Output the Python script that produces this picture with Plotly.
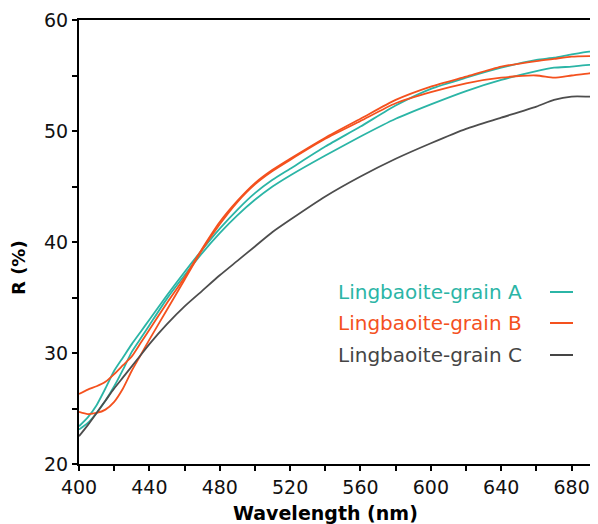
import plotly.graph_objects as go

# ---- data ----
wavelength = [400, 405, 410, 415, 420, 425, 430, 435, 440, 450, 460, 470, 480, 490, 500,
              510, 520, 540, 560, 580, 600, 620, 640, 660, 670, 680, 690, 695]
grain_a1 = [23.4, 24.2, 25.3, 26.8, 28.4, 29.6, 30.8, 31.9, 33.0, 35.2, 37.3, 39.3, 41.2, 42.9, 44.4,
            45.6, 46.6, 48.6, 50.4, 52.3, 53.8, 54.8, 55.7, 56.4, 56.6, 56.9, 57.15, 57.15]
grain_a2 = [23.1, 23.7, 24.6, 25.7, 27.0, 28.5, 30.1, 31.3, 32.5, 34.9, 37.0, 39.0, 40.8, 42.4, 43.8,
            45.0, 46.0, 47.8, 49.5, 51.1, 52.4, 53.6, 54.6, 55.4, 55.7, 55.8, 55.95, 55.95]
grain_b1 = [26.3, 26.7, 27.0, 27.4, 28.1, 28.9, 29.7, 30.9, 32.1, 34.5, 36.8, 39.4, 41.8, 43.7, 45.3,
            46.5, 47.5, 49.4, 51.1, 52.8, 54.0, 54.9, 55.8, 56.3, 56.5, 56.7, 56.75, 56.75]
grain_b2 = [24.7, 24.5, 24.6, 24.9, 25.6, 26.8, 28.4, 29.8, 31.2, 33.9, 36.6, 39.3, 41.6, 43.6, 45.2,
            46.4, 47.4, 49.3, 50.9, 52.5, 53.5, 54.3, 54.8, 55.0, 54.8, 55.0, 55.2, 55.2]
grain_c = [22.5, 23.5, 24.6, 25.7, 26.8, 27.8, 28.8, 29.8, 30.8, 32.6, 34.2, 35.6, 37.0, 38.3, 39.6,
           40.9, 42.0, 44.1, 45.9, 47.5, 48.9, 50.2, 51.2, 52.2, 52.8, 53.1, 53.1, 53.1]

legend_labels = ["Lingbaoite-grain A", "Lingbaoite-grain B", "Lingbaoite-grain C"]
x_ticks = [400, 440, 480, 520, 560, 600, 640, 680]
y_ticks = [20, 30, 40, 50, 60]

TEAL = "#2bb5a6"
ORANGE = "#f4511e"
GRAY = "#4d4d4d"

series = [
    (grain_a1, TEAL), (grain_a2, TEAL),
    (grain_b1, ORANGE), (grain_b2, ORANGE),
    (grain_c, GRAY),
]

fig = go.Figure()
for ys, col in series:
    fig.add_trace(go.Scatter(x=wavelength, y=ys, mode="lines",
                             line=dict(color=col, width=1.8, shape="spline", smoothing=0.6),
                             showlegend=False, hoverinfo="skip"))

tick_font = dict(family="DejaVu Sans", size=19, color="#111")

# page body adds an 8px offset; plot area should land at x 79..598, y 20..464 in the window
fig.update_layout(
    width=598, height=524,
    margin=dict(l=71, r=8, t=12, b=68),
    paper_bgcolor="white", plot_bgcolor="white",
    xaxis=dict(range=[400, 695], tickvals=x_ticks, ticks="outside", ticklen=5, tickwidth=1.6,
               tickcolor="black", showgrid=False, zeroline=False, showline=True, linecolor="black",
               linewidth=2, mirror=True, tickfont=tick_font, automargin=False,
               minor=dict(dtick=20, tick0=400, ticks="outside", ticklen=5, tickwidth=1.6, tickcolor="black",
                          showgrid=False)),
    yaxis=dict(range=[20, 60], tickvals=y_ticks, ticks="outside", ticklen=5, tickwidth=1.6,
               tickcolor="black", showgrid=False, zeroline=False, showline=True, linecolor="black",
               linewidth=2, tickfont=tick_font, automargin=False,
               minor=dict(dtick=5, tick0=20, ticks="outside", ticklen=5, tickwidth=1.6, tickcolor="black",
                          showgrid=False)),
)

# axis titles (positions in window pixels converted to plot-area fractions)
fig.add_annotation(text="<b>Wavelength (nm)</b>", xref="paper", yref="paper",
                   x=(325 - 79) / 519, y=-(513 - 464) / 444, showarrow=False,
                   font=dict(family="DejaVu Sans", size=19, color="black"),
                   xanchor="center", yanchor="middle")
fig.add_annotation(text="<b>R (%)</b>", xref="paper", yref="paper",
                   x=-(79 - 18) / 519, y=(464 - 268) / 444, showarrow=False, textangle=-90,
                   font=dict(family="DejaVu Sans", size=18, color="black"),
                   xanchor="center", yanchor="middle")

# custom legend (text then line sample)
leg_colors = [TEAL, ORANGE, "#454545"]
leg_y = [292, 323, 355]
for lab, col, py in zip(legend_labels, leg_colors, leg_y):
    yp = (464 - py) / 444
    fig.add_annotation(text=lab, xref="paper", yref="paper", x=(336 - 79) / 519, y=yp,
                       showarrow=False, xanchor="left", yanchor="middle",
                       font=dict(family="DejaVu Sans", size=20, color=col))
    fig.add_shape(type="line", xref="paper", yref="paper",
                  x0=(550 - 79) / 519, x1=(573 - 79) / 519, y0=yp, y1=yp,
                  line=dict(color=col, width=2))

fig.write_html("out.html")
